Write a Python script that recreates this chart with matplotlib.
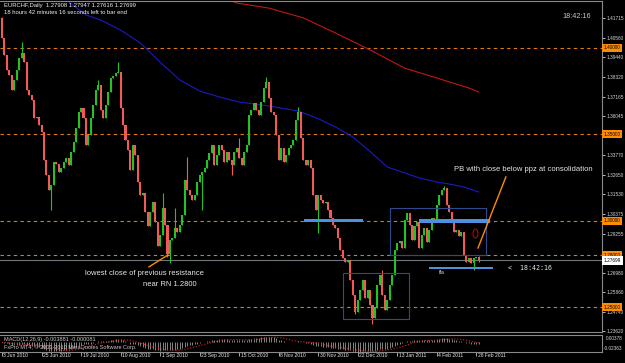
import numpy as np
import pandas as pd
import matplotlib
matplotlib.use('Agg')
import matplotlib.pyplot as plt
from matplotlib.patches import Rectangle, Ellipse

plt.rcParams['font.family'] = ['Liberation Sans', 'DejaVu Sans']

# EURCHF daily closes, 3 Jun 2010 .. 1 Mar 2011
closes = [
    1.4056, 1.3957, 1.3871, 1.3842, 1.3755, 1.3813, 1.3871, 1.3940, 1.3969, 1.3917,
    1.3755, 1.3726, 1.3698, 1.3594, 1.3600, 1.3553, 1.3512, 1.3351, 1.3264, 1.3177,
    1.3206, 1.3339, 1.3330, 1.3281, 1.3304, 1.3339, 1.3362, 1.3322, 1.3397, 1.3455,
    1.3536, 1.3628, 1.3651, 1.3594, 1.3437, 1.3495, 1.3594, 1.3669, 1.3755, 1.3784,
    1.3640, 1.3594, 1.3669, 1.3744, 1.3825, 1.3836, 1.3854, 1.3860, 1.3651, 1.3553,
    1.3466, 1.3409, 1.3293, 1.3437, 1.3380, 1.3223, 1.3148, 1.3160, 1.3050, 1.2969,
    1.3050, 1.3108, 1.2992, 1.2853, 1.2917, 1.3073, 1.2975, 1.2805, 1.2888, 1.2900,
    1.2957, 1.2934, 1.2975, 1.3033, 1.3235, 1.3177, 1.3148, 1.3120, 1.3148, 1.3223,
    1.3264, 1.3281, 1.3304, 1.3351, 1.3391, 1.3437, 1.3322, 1.3380, 1.3437, 1.3409,
    1.3339, 1.3397, 1.3351, 1.3322, 1.3397, 1.3420, 1.3362, 1.3322, 1.3397, 1.3437,
    1.3611, 1.3640, 1.3680, 1.3640, 1.3611, 1.3686, 1.3767, 1.3802, 1.3709, 1.3628,
    1.3611, 1.3495, 1.3351, 1.3420, 1.3339, 1.3380, 1.3420, 1.3437, 1.3466, 1.3582,
    1.3628, 1.3478, 1.3351, 1.3322, 1.3351, 1.3304, 1.3148, 1.3062, 1.3148, 1.3120,
    1.3102, 1.3110, 1.3062, 1.3016, 1.2975, 1.2957, 1.2900, 1.2831, 1.2785, 1.2762,
    1.2773, 1.2657, 1.2571, 1.2473, 1.2542, 1.2599, 1.2657, 1.2553, 1.2599, 1.2513,
    1.2438, 1.2496, 1.2628, 1.2686, 1.2571, 1.2484, 1.2542, 1.2628, 1.2686, 1.2831,
    1.2871, 1.2880, 1.2842, 1.3004, 1.3044, 1.2975, 1.2888, 1.2969, 1.2992, 1.2842,
    1.2917, 1.2957, 1.2877, 1.2946, 1.3016, 1.2992, 1.3091, 1.3148, 1.3177, 1.3189,
    1.3091, 1.3050, 1.2992, 1.2934, 1.2946, 1.2911, 1.2934, 1.2802, 1.2762, 1.2785,
    1.2755, 1.2785, 1.27908, 1.27699,
]
first_open = 1.4170

# bars whose wick sticks out past the body
hi_idx = [0, 8, 39, 47, 65, 70, 75, 96, 107, 108, 120, 154, 179, 193]
hi_val = [1.4180, 1.4033, 1.3813, 1.3917, 1.3160, 1.3073, 1.3368, 1.3478,
          1.3830, 1.3795, 1.3657, 1.2715, 1.3200, 1.27947]
lo_idx = [20, 67, 68, 81, 93, 128, 143, 150, 191, 193]
lo_val = [1.3062, 1.2790, 1.2756, 1.3062, 1.3264, 1.2929, 1.2461, 1.2403,
          1.2715, 1.27616]

# moving averages (blue and red), read at a few bars
blue_idx = [26, 34, 40, 48, 56, 64, 72, 80, 88, 96, 108, 120, 128, 135, 142,
            149, 156, 163, 169, 176, 181, 187, 193]
blue_val = [1.4276, 1.4189, 1.4160, 1.4102, 1.4027, 1.3917, 1.3813, 1.3750,
            1.3715, 1.3686, 1.3663, 1.3634, 1.3590, 1.3542, 1.3484, 1.3400,
            1.3310, 1.3276, 1.3247, 1.3224, 1.3212, 1.3195, 1.3166]
red_idx = [92, 95, 108, 122, 135, 149, 163, 176, 189, 193]
red_val = [1.4276, 1.4258, 1.4229, 1.4172, 1.4085, 1.3987, 1.3882, 1.3825,
           1.3767, 1.3744]

round_levels = [1.40, 1.35, 1.30, 1.28, 1.25]
scale_vals = [1.41715, 1.40560, 1.39440, 1.38320, 1.37165, 1.36045, 1.33770,
              1.32650, 1.31530, 1.30375, 1.29255, 1.26980, 1.25860, 1.24740]
date_labels = ['3 Jun 2010', '25 Jun 2010', '19 Jul 2010', '10 Aug 2010',
               '1 Sep 2010', '23 Sep 2010', '15 Oct 2010', '8 Nov 2010',
               '30 Nov 2010', '22 Dec 2010', '13 Jan 2011', '4 Feb 2011',
               '28 Feb 2011']
last_price = 1.27699

W, H = 625, 363
fig = plt.figure(figsize=(6.25, 3.63), dpi=100, facecolor='black')


def fx(px):
    return px / W


def fy(py):
    return 1 - py / H


step = 2.47
ax = fig.add_axes([0, fy(332), fx(602), 331 / H])
ax.set_facecolor('black')
ax.set_xlim(-2 / step, 600 / step)
ax.set_ylim(1.23566, 1.42698)

c = np.array(closes)
o = np.r_[first_open, c[:-1]]
idx = np.arange(len(c))
hi = np.maximum(o, c)
lo = np.minimum(o, c)
hi[hi_idx] = np.maximum(hi[hi_idx], hi_val)
lo[lo_idx] = np.minimum(lo[lo_idx], lo_val)
up = c >= o
green, red = '#22c422', '#f25a5a'
cols = np.where(up, green, red)

for lvl in round_levels:
    ax.axhline(lvl, color='#e07b1a', lw=0.8, dashes=(3, 3), zorder=1)
ax.axhline(last_price, color='#6c7780', lw=0.8, zorder=1)

ax.vlines(idx, lo, hi, colors=cols, lw=0.8, zorder=3)
ax.bar(idx, np.maximum(np.abs(c - o), 0.0005), bottom=np.minimum(o, c),
       width=0.82, color=cols, lw=0, zorder=3)

ax.plot(blue_idx, blue_val, color='#1a1ac8', lw=0.8, zorder=2)
ax.plot(red_idx, red_val, color='#c01818', lw=0.8, zorder=2)

# boxes and zones
box_c = '#2f4a8a'
ax.add_patch(Rectangle((157.1, 1.2802), 38.9, 1.3073 - 1.2802, fill=False,
                       ec=box_c, lw=0.8, zorder=4))
ax.add_patch(Rectangle((138.0, 1.2432), 26.8, 1.2698 - 1.2432, fill=False,
                       ec=box_c, lw=0.8, zorder=4))
zone_c = '#4f8fe0'
ax.add_patch(Rectangle((122.3, 1.2992), 23.9, 0.0016, color=zone_c, lw=0, zorder=5))
ax.add_patch(Rectangle((168.8, 1.2988), 28.8, 0.0022, color=zone_c, lw=0, zorder=5))
ax.add_patch(Rectangle((172.9, 1.2718), 25.9, 0.0017, color=zone_c, lw=0, zorder=5))
ax.text(177.0, 1.2700, 'fla', color='#d0d0d0', fontsize=4, va='center', zorder=6)

ax.add_patch(Ellipse((191.7, 1.2926), 2.0, 0.0052, fill=False, ec='#c00000',
                     lw=0.8, zorder=6))

# annotations
ax.plot([59.5, 67.2], [1.2733, 1.2802], color='#ff8c00', lw=1, zorder=6)
ax.plot([192.7, 204.0], [1.2842, 1.3253], color='#ff8c00', lw=1, zorder=6)
ax.text(33.6, 1.2692, 'lowest close of previous resistance', color='#e6e6e6',
        fontsize=5.5, va='center')
ax.text(57.1, 1.2634, 'near RN 1.2800', color='#e6e6e6', fontsize=5.5, va='center')
ax.text(183.0, 1.3293, 'PB with close below ppz at consolidation',
        color='#e6e6e6', fontsize=5.5, va='center')
ax.text(204.9, 1.2727, '<  18:42:16', color='#e6e6e6', fontsize=4.8,
        family='DejaVu Sans Mono', va='center')

# price scale
ax.yaxis.tick_right()
ax.set_yticks(scale_vals + [1.23620])
ax.set_yticklabels([f'{v:.5f}' for v in scale_vals] + ['1.23620'])
ax.tick_params(axis='y', colors='#d8d8d8', labelsize=3.4, length=2, pad=1.5,
               width=0.6)
ax.tick_params(axis='x', bottom=False, labelbottom=False)
yt = ax.get_yaxis_transform()
for lvl in round_levels:
    ax.text(1.003, lvl, f'{lvl:.5f}', transform=yt, fontsize=3.4, color='black',
            va='center', ha='left', clip_on=False,
            bbox=dict(boxstyle='square,pad=0.35', fc='#ff8c00', ec='none'))
ax.text(1.003, last_price, f'{last_price:.5f}', transform=yt, fontsize=3.4,
        color='black', va='center', ha='left', clip_on=False,
        bbox=dict(boxstyle='square,pad=0.35', fc='white', ec='none'))
for s in ['top', 'right', 'bottom']:
    ax.spines[s].set_color('#8a8a8a')
    ax.spines[s].set_linewidth(0.8)
ax.spines['left'].set_visible(False)

# MACD window
s = pd.Series(closes)
macd = s.ewm(span=12, adjust=False).mean() - s.ewm(span=26, adjust=False).mean()
signal = macd.rolling(9, min_periods=1).mean()

ax2 = fig.add_axes([0, fy(352), fx(602), 17 / H])
ax2.set_facecolor('black')
ax2.set_xlim(ax.get_xlim())
lo_m, hi_m = min(macd.min(), signal.min()), max(macd.max(), signal.max(), 0)
ax2.set_ylim(lo_m, hi_m + 0.1 * (hi_m - lo_m))
ax2.vlines(idx, 0, macd, color='#b8b8b8', lw=0.5)
ax2.plot(idx, signal, color='#e02020', lw=0.8, ls=':')
ax2.set_yticks([])
ax2.set_xticks(np.arange(0, len(c), 16))
ax2.set_xticklabels([])
ax2.tick_params(axis='x', colors='#c0c0c0', length=3, width=0.6, direction='out')
for s_ in ['top', 'right', 'bottom']:
    ax2.spines[s_].set_color('#8a8a8a')
    ax2.spines[s_].set_linewidth(0.8)
ax2.spines['left'].set_visible(False)
xt = ax2.get_xaxis_transform()
for k, lab in enumerate(date_labels):
    ax2.text(k * 16 + 0.6, -0.22, lab, transform=xt, fontsize=3.6,
             color='#e6e6e6', va='center', ha='left', clip_on=False)

fig.text(fx(4), fy(340), 'MACD(12,26,9) -0.003881 -0.000081', fontsize=4,
         color='#c8c8c8', va='center')
fig.text(fx(4), fy(347), 'FxPro MT4, \u00a9 2001-2010 MetaQuotes Software Corp.',
         fontsize=4, color='#c8c8c8', va='center')
fig.text(fx(606), fy(339), '0.00378', fontsize=3.4, color='#d8d8d8', va='center')
fig.text(fx(604), fy(348), '-0.02363', fontsize=3.4, color='#d8d8d8', va='center')

# header
fig.text(fx(4), fy(6), 'EURCHF,Daily  1.27908 1.27947 1.27616 1.27699',
         fontsize=4.2, color='#f0f0f0', va='center')
fig.text(fx(4), fy(12.7), '18 hours 42 minutes 16 seconds left to bar end',
         fontsize=4.2, color='#f0f0f0', va='center')
fig.text(fx(562), fy(17), '18:42:16', fontsize=5.2, color='#c8c8c8', va='center')

fig.savefig('out.png', dpi=100, facecolor='black')
